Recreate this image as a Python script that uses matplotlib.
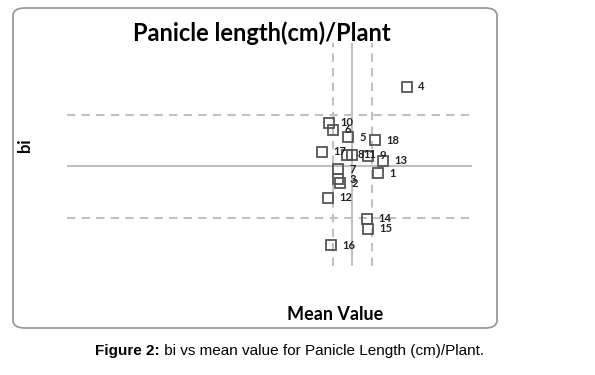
import matplotlib
matplotlib.use('Agg')
import matplotlib.pyplot as plt
from matplotlib.patches import FancyBboxPatch

# genotype labels, mean panicle length (cm) and regression coefficient bi
genotypes = ['1', '2', '3', '4', '5', '6', '7', '8', '9', '10',
             '11', '12', '13', '14', '15', '16', '17', '18']
mean_value = [21.30, 19.40, 19.30, 22.75, 19.80, 19.05, 19.30, 19.75, 20.80, 18.85,
              20.00, 18.80, 21.55, 20.75, 20.80, 18.95, 18.50, 21.15]
bi = [0.93, 0.83, 0.87, 1.77, 1.28, 1.35, 0.97, 1.11, 1.10, 1.42,
      1.11, 0.69, 1.05, 0.49, 0.39, 0.23, 1.14, 1.25]

grand_mean = 20.0
mean_low, mean_high = 19.05, 21.0
bi_ref = 1.0
bi_low, bi_high = 0.495, 1.495

W, H = 595, 375
fig = plt.figure(figsize=(W / 100, H / 100), dpi=100)

# rounded grey frame around the chart
frame = FancyBboxPatch((13 / W, 1 - 328 / H), (497 - 13) / W, (328 - 8) / H,
                       boxstyle='round,pad=0,rounding_size=0.02',
                       transform=fig.transFigure, facecolor='none',
                       edgecolor='#9a9a9a', linewidth=1.3, zorder=-1)
fig.patches.append(frame)

ax = fig.add_axes([67 / W, 1 - 266 / H, (472 - 67) / W, (266 - 43) / H])
ax.set_xlim(5.75, 26.0)
ax.set_ylim(0.029, 2.194)
ax.axis('off')

grey = '#c0c0c0'
ax.axvline(grand_mean, color=grey, lw=1.5)
ax.axvline(mean_low, color=grey, lw=1.5, ls=(0, (4, 3)))
ax.axvline(mean_high, color=grey, lw=1.5, ls=(0, (4, 3)))
ax.axhline(bi_ref, color=grey, lw=1.5)
ax.axhline(bi_low, color=grey, lw=1.5, ls=(0, (4, 3)))
ax.axhline(bi_high, color=grey, lw=1.5, ls=(0, (4, 3)))

ax.plot(mean_value, bi, ls='none', marker='s', markersize=7.5,
        markerfacecolor='none', markeredgecolor='#555555', markeredgewidth=1.3)
for g, x, y in zip(genotypes, mean_value, bi):
    ax.annotate(g, (x, y), xytext=(8, 0), textcoords='offset points',
                ha='left', va='center', fontsize=8, fontweight='bold',
                family='Lato', color='#222222')

fig.text(262 / W, 1 - 33 / H, 'Panicle length(cm)/Plant', ha='center', va='center',
         fontsize=17, fontweight='bold', family='Lato')
fig.text(335 / W, 1 - 315 / H, 'Mean Value', ha='center', va='center',
         fontsize=13, fontweight='bold', family='Lato')
fig.text(25 / W, 1 - 145 / H, 'bi', ha='center', va='center', rotation=90,
         fontsize=12, fontweight='bold', family='Lato')

t1 = fig.text(95 / W, 1 - 351 / H, 'Figure 2:', ha='left', va='center',
              fontsize=11, fontweight='bold', family='Liberation Sans')
ax.annotate(' bi vs mean value for Panicle Length (cm)/Plant.', xy=(1, 0),
            xycoords=t1, ha='left', va='bottom', fontsize=11,
            family='Liberation Sans', annotation_clip=False)

fig.savefig('out.png', dpi=100)
